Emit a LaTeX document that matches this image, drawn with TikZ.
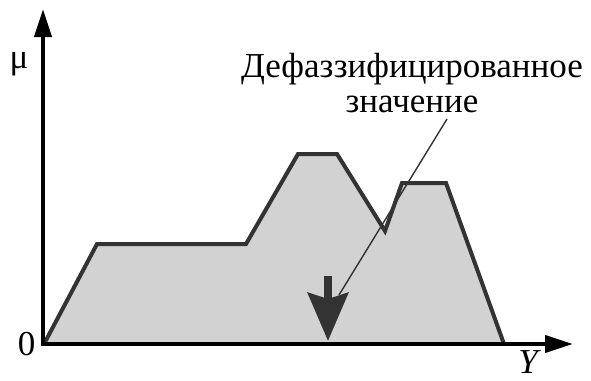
\documentclass[tikz,border=0pt]{standalone}
\usepackage{fontspec}
\setmainfont{Liberation Serif}
\newfontfamily\figfont{Liberation Serif}
\usetikzlibrary{arrows.meta}
\definecolor{outline}{HTML}{333333}
\definecolor{shade}{HTML}{D2D2D2}

\begin{document}
\begin{tikzpicture}[
  x=1pt, y=-1pt,
  axis/.style={line width=4.3pt, -{Triangle[length=28pt, width=17pt]}},
  curve/.style={line width=4pt, draw=outline, fill=shade, line join=miter},
  pointer/.style={line width=8pt, draw=outline, -{Stealth[length=48pt, width=40pt, inset=6pt]}},
  lead/.style={line width=1.4pt, draw=outline},
  lbl/.style={font=\figfont\fontsize{35}{35}\selectfont, inner sep=0pt}
]
\useasboundingbox (0,0) rectangle (591,380);
\coordinate (origin) at (43,344);
\coordinate (ytip) at (43,9);
\coordinate (xtip) at (573,344);
\coordinate (leadtop) at (447,119);
\coordinate (leadend) at (339,295);
\coordinate (crisp) at (328,341);
\coordinate (crisptail) at (328,276);
\draw[curve] (44,344) -- (97,244) -- (246,244) -- (298,154) -- (337,154) -- (385,231)
  -- (402,183) -- (446,183) -- (504,344);
\draw[axis] ([yshift=2pt]origin) -- (ytip);
\draw[axis] ([xshift=-2pt]origin) -- (xtip);
\draw[pointer] (crisptail) -- (crisp);
\draw[lead] (leadtop) -- (leadend);
\node[lbl, anchor=base] (mu) at (19,68) {μ};
\node[lbl, anchor=base] (zero) at (26.5,355) {0};
\node[lbl, anchor=base] (yname) at (528,373) {\itshape Y};
\node[lbl, anchor=base, align=center] (defuzz) at (412,112) {Дефаззифицированное\\значение};
\end{tikzpicture}
\end{document}
